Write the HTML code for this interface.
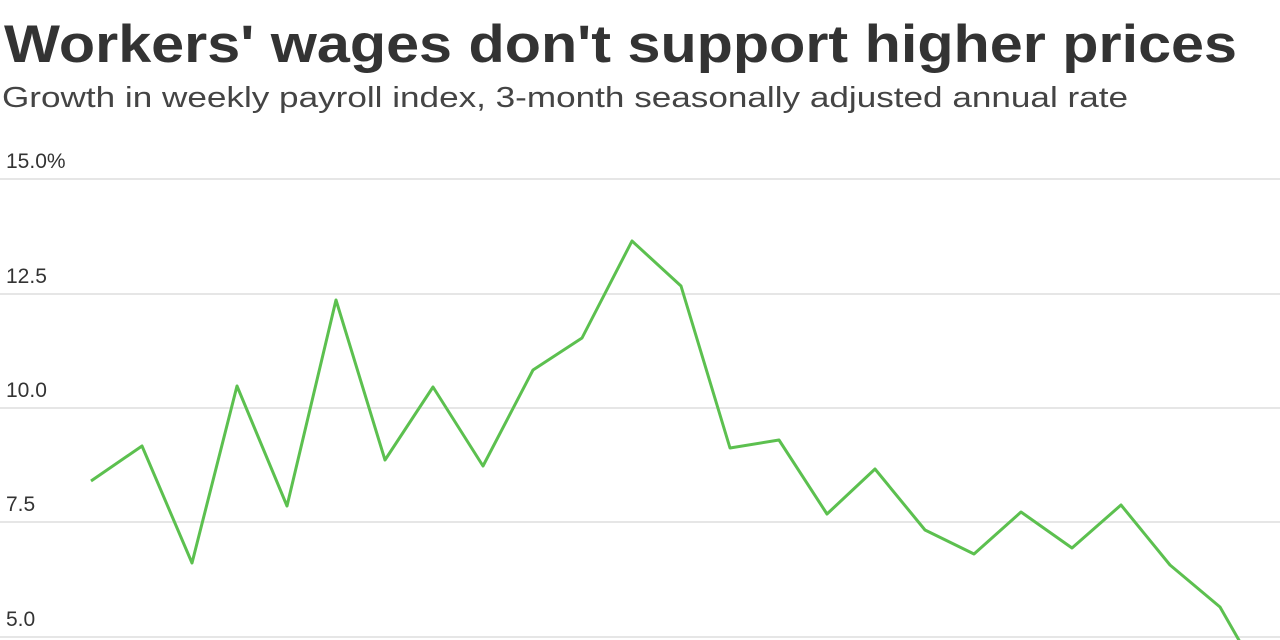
<!DOCTYPE html>
<html><head><style>
html,body{margin:0;padding:0;background:#fff;width:1280px;height:640px;overflow:hidden}
</style></head><body>
<svg width="1280" height="640" xmlns="http://www.w3.org/2000/svg" style="display:block">
<text x="4" y="62" font-family="Liberation Sans, sans-serif" font-weight="bold" font-size="53" fill="#333" textLength="1233" lengthAdjust="spacingAndGlyphs">Workers' wages don't support higher prices</text>
<text x="2" y="107" font-family="Liberation Sans, sans-serif" font-size="29" fill="#444" textLength="1126" lengthAdjust="spacingAndGlyphs">Growth in weekly payroll index, 3-month seasonally adjusted annual rate</text>
<g stroke="#ddd" stroke-width="1.5">
<line x1="0" y1="179" x2="1280" y2="179"/>
<line x1="0" y1="294" x2="1280" y2="294"/>
<line x1="0" y1="408" x2="1280" y2="408"/>
<line x1="0" y1="522" x2="1280" y2="522"/>
<line x1="0" y1="637" x2="1280" y2="637"/>
</g>
<g font-family="Liberation Sans, sans-serif" font-size="21" fill="#333">
<text x="6" y="168">15.0%</text>
<text x="6" y="283">12.5</text>
<text x="6" y="397">10.0</text>
<text x="6" y="511">7.5</text>
<text x="6" y="626">5.0</text>
</g>
<polyline fill="none" stroke="#5cc04f" stroke-width="3" stroke-linejoin="round" points="91,481 142,446 192,563 237,386 287,506 336,300 385,460 433,387 483,466 533,370 582,338 632,241 681,286 730,448 779,440 827,514 875,469 925,530 974,554 1021,512 1072,548 1121,505 1170,565 1220,607 1240,642"/>
</svg>
</body></html>
